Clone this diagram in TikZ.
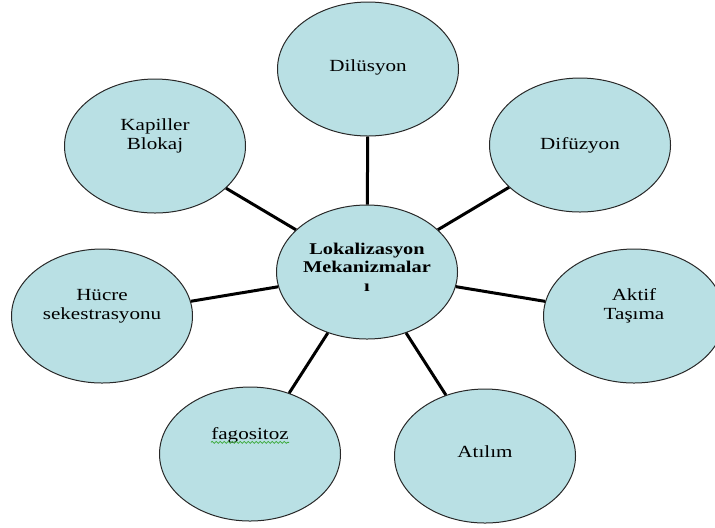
\documentclass[tikz,border=0pt]{standalone}
\usepackage{fontspec}
\setmainfont[FakeStretch=1.24]{Liberation Serif}
\usetikzlibrary{shapes.geometric, decorations.pathmorphing}
\definecolor{bubblefill}{RGB}{185,224,228}
\definecolor{bubbleline}{RGB}{40,40,40}
\definecolor{spellgreen}{RGB}{60,170,60}

\begin{document}
\begin{tikzpicture}[
    x=0.5pt, y=-0.5pt,
    bubble/.style={ellipse, draw=bubbleline, line width=0.5pt, fill=bubblefill, minimum width=90.5pt, minimum height=67pt, inner sep=0pt},
    lbl/.style={align=center, font=\fontsize{8.5}{9.5}\selectfont, inner sep=0pt},
    hub/.style={align=center, font=\fontsize{8.2}{9.2}\selectfont\bfseries, inner sep=0pt},
    spoke/.style={line width=1.5pt},
    spell/.style={draw=spellgreen, line width=0.4pt, decorate, decoration={snake, amplitude=0.5pt, segment length=2pt}}
]
\useasboundingbox (0,0) rectangle (715,527);

% Nodes
\node (loc) [bubble] at (367,272) {};
\node (dil) [bubble] at (368,69) {};
\node (kap) [bubble] at (155,146) {};
\node (dif) [bubble] at (580,145) {};
\node (huc) [bubble] at (102,316) {};
\node (akt) [bubble] at (634,316) {};
\node (fag) [bubble] at (250,454) {};
\node (ati) [bubble] at (485,456) {};

% Labels
\node (locT) [hub, yshift=2.5pt] at (loc) {Lokalizasyon\\Mekanizmalar\\ı};
\node (dilT) [lbl, yshift=1pt] at (dil) {Dilüsyon};
\node (kapT) [lbl, yshift=5pt] at (kap) {Kapiller\\Blokaj};
\node (difT) [lbl] at (dif) {Difüzyon};
\node (hucT) [lbl, yshift=5pt] at (huc) {Hücre\\sekestrasyonu};
\node (aktT) [lbl, yshift=5pt] at (akt) {Aktif\\Taşıma};
\node (fagT) [lbl, yshift=9.5pt] at (fag) {fagositoz};
\node (atiT) [lbl, yshift=2pt] at (ati) {Atılım};
\draw [spell] ([yshift=-1.6pt]fagT.base west) -- ([yshift=-1.6pt]fagT.base east);

% Spokes
\foreach \leaf in {dil, kap, dif, huc, akt, fag, ati}
    \draw [spoke] (loc) -- (\leaf);

\end{tikzpicture}
\end{document}
